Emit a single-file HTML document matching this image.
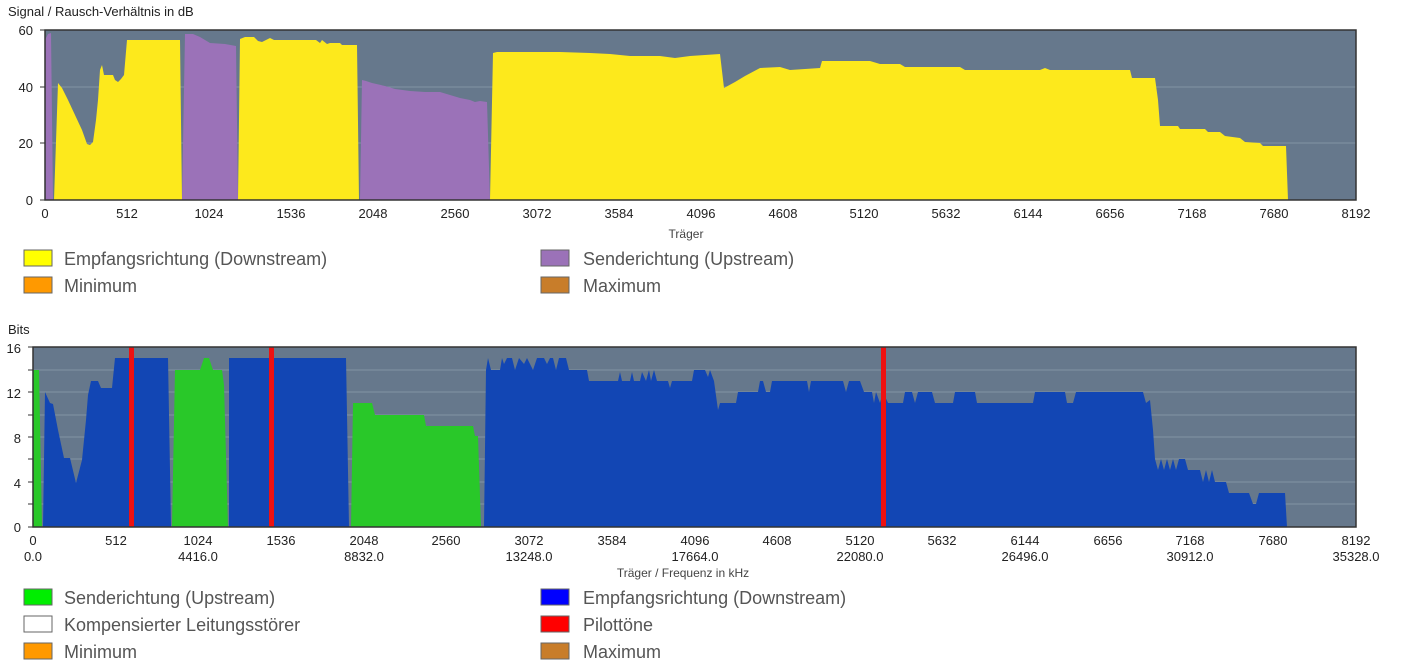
<!DOCTYPE html>
<html><head><meta charset="utf-8"><style>
html,body{margin:0;padding:0;background:#fff;width:1403px;height:672px;overflow:hidden}
svg{display:block;font-family:"Liberation Sans",sans-serif}
.t{font-size:13px;fill:#222}
.lg{font-size:18px;fill:#555}
</style></head><body>
<svg width="1403" height="672" viewBox="0 0 1403 672">
<!-- TOP CHART -->
<text x="8" y="16" class="t" font-size="13">Signal / Rausch-Verhältnis in dB</text>
<rect x="45" y="30" width="1311" height="170" fill="#66788c"/>
<g stroke="#8193a4" stroke-width="1"><line x1="45" y1="87" x2="1356" y2="87"/><line x1="45" y1="143" x2="1356" y2="143"/></g>
<polygon fill="#9b72b8" points="45,200 45,40 48,34 51,33 53,200"/>
<polygon fill="#fde91c" points="54,200 58,83 62,88 68,100 75,115 82,130 87,144 90,145 93,142 96,120 98,100 100,70 102,65 104,75 113,75 115,80 118,82 121,79 124,75 127,40 180,40 182,200"/>
<polygon fill="#9b72b8" points="182,200 185,34 193,34 200,37 205,40 210,43 225,44 236,46 238,200"/>
<polygon fill="#fde91c" points="238,200 240,39 245,37 254,37 258,41 262,42 266,40 270,38 274,40 316,40 320,43 322,40 327,44 330,43 340,43 342,45 357,45 359,200"/>
<polygon fill="#9b72b8" points="360,200 362,80 366,81 372,83 385,86 395,89 410,91 425,92 440,92 450,95 460,98 470,100 475,102 480,101 487,102 490,200"/>
<polygon fill="#fde91c" points="490,200 493,53 497,52 560,52 590,53 610,54 630,56 660,56 675,58 690,56 720,54 724,88 735,82 745,76 760,68 780,67 790,70 820,68 822,61 870,61 880,64 900,64 905,67 960,67 965,70 1040,70 1045,68 1050,70 1130,70 1132,78 1155,78 1158,100 1160,126 1178,126 1180,129 1205,129 1208,132 1220,132 1225,136 1240,138 1245,142 1260,143 1263,146 1286,146 1288,200"/>
<rect x="45" y="30" width="1311" height="170" fill="none" stroke="#333" stroke-width="1.5"/>
<g class="t" text-anchor="end" font-size="13"><text x="33" y="35">60</text><text x="33" y="92">40</text><text x="33" y="148">20</text><text x="33" y="205">0</text></g>
<g stroke="#333"><line x1="40" y1="30" x2="45" y2="30"/><line x1="40" y1="87" x2="45" y2="87"/><line x1="40" y1="143" x2="45" y2="143"/><line x1="40" y1="200" x2="45" y2="200"/></g>
<g class="t" text-anchor="middle" font-size="13">
<text x="45" y="218">0</text><text x="127" y="218">512</text><text x="209" y="218">1024</text><text x="291" y="218">1536</text><text x="373" y="218">2048</text><text x="455" y="218">2560</text><text x="537" y="218">3072</text><text x="619" y="218">3584</text><text x="701" y="218">4096</text><text x="783" y="218">4608</text><text x="864" y="218">5120</text><text x="946" y="218">5632</text><text x="1028" y="218">6144</text><text x="1110" y="218">6656</text><text x="1192" y="218">7168</text><text x="1274" y="218">7680</text><text x="1356" y="218">8192</text>
<text x="686" y="238" font-size="12" fill="#444">Träger</text></g>
<rect x="24" y="250" width="28" height="16" fill="#ffff00" stroke="#666"/><text x="64" y="265" class="lg">Empfangsrichtung (Downstream)</text>
<rect x="541" y="250" width="28" height="16" fill="#9b72b8" stroke="#666"/><text x="583" y="265" class="lg">Senderichtung (Upstream)</text>
<rect x="24" y="277" width="28" height="16" fill="#ff9900" stroke="#666"/><text x="64" y="292" class="lg">Minimum</text>
<rect x="541" y="277" width="28" height="16" fill="#c87d2a" stroke="#666"/><text x="583" y="292" class="lg">Maximum</text>

<!-- BOTTOM CHART -->
<text x="8" y="334" class="t" font-size="12">Bits</text>
<rect x="33" y="347" width="1323" height="180" fill="#66788c"/>
<g stroke="#8193a4" stroke-width="1">
<line x1="33" y1="370" x2="1356" y2="370"/><line x1="33" y1="392" x2="1356" y2="392"/><line x1="33" y1="415" x2="1356" y2="415"/><line x1="33" y1="437" x2="1356" y2="437"/><line x1="33" y1="459" x2="1356" y2="459"/><line x1="33" y1="482" x2="1356" y2="482"/><line x1="33" y1="504" x2="1356" y2="504"/></g>
<polygon fill="#29c829" points="33,527 33,370 39,370 42,527"/>
<polygon fill="#1246b4" points="43,527 45,392 50,403 53,404 58,430 64,458 70,458 76,483 82,460 86,420 88,395 91,381 98,381 101,388 112,388 115,358 168,358 171,527"/>
<polygon fill="#29c829" points="172,527 175,370 200,370 204,358 209,358 213,370 222,370 224,385 228,527"/>
<polygon fill="#1246b4" points="229,527 229,358 346,358 349,527"/>
<polygon fill="#29c829" points="351,527 353,403 372,403 375,415 424,415 426,426 473,426 475,436 478,436 481,527"/>
<polygon fill="#1246b4" points="484,527 486,370 488,358 491,370 500,370 502,358 504,364 507,358 512,358 515,370 519,358 524,364 527,358 530,364 533,370 537,358 544,358 547,364 550,358 553,358 556,370 559,358 566,358 569,370 587,370 589,381 618,381 620,372 622,381 630,381 632,372 634,381 640,381 642,372 646,381 649,370 651,381 654,370 657,381 668,381 670,388 672,381 692,381 694,370 705,370 708,377 710,370 714,381 718,410 720,403 736,403 738,392 758,392 760,381 763,381 766,392 770,392 772,381 807,381 809,392 811,381 843,381 846,392 849,381 860,381 864,392 872,392 874,403 876,392 880,403 883,392 888,403 903,403 905,392 912,392 915,403 918,392 920,392 932,392 935,403 953,403 955,392 975,392 977,403 1033,403 1035,392 1065,392 1067,403 1073,403 1076,392 1143,392 1146,403 1150,400 1153,430 1155,459 1158,470 1161,459 1164,470 1167,459 1170,470 1173,459 1176,470 1179,459 1185,459 1188,470 1200,470 1203,482 1206,470 1209,482 1212,470 1215,482 1218,482 1221,482 1226,482 1229,493 1249,493 1253,504 1256,504 1259,493 1285,493 1287,527"/>
<g fill="#ee1111"><rect x="129" y="347" width="5" height="180"/><rect x="269" y="347" width="5" height="180"/><rect x="881" y="347" width="5" height="180"/></g>
<rect x="33" y="347" width="1323" height="180" fill="none" stroke="#333" stroke-width="1.5"/>
<g class="t" text-anchor="end" font-size="13"><text x="21" y="353">16</text><text x="21" y="398">12</text><text x="21" y="443">8</text><text x="21" y="488">4</text><text x="21" y="532">0</text></g>
<g stroke="#333"><line x1="28" y1="347" x2="33" y2="347"/><line x1="28" y1="370" x2="33" y2="370"/><line x1="28" y1="392" x2="33" y2="392"/><line x1="28" y1="415" x2="33" y2="415"/><line x1="28" y1="437" x2="33" y2="437"/><line x1="28" y1="459" x2="33" y2="459"/><line x1="28" y1="482" x2="33" y2="482"/><line x1="28" y1="504" x2="33" y2="504"/><line x1="28" y1="527" x2="33" y2="527"/></g>
<g class="t" text-anchor="middle" font-size="13">
<text x="33" y="545">0</text><text x="116" y="545">512</text><text x="198" y="545">1024</text><text x="281" y="545">1536</text><text x="364" y="545">2048</text><text x="446" y="545">2560</text><text x="529" y="545">3072</text><text x="612" y="545">3584</text><text x="695" y="545">4096</text><text x="777" y="545">4608</text><text x="860" y="545">5120</text><text x="942" y="545">5632</text><text x="1025" y="545">6144</text><text x="1108" y="545">6656</text><text x="1190" y="545">7168</text><text x="1273" y="545">7680</text><text x="1356" y="545">8192</text>
<text x="33" y="561">0.0</text><text x="198" y="561">4416.0</text><text x="364" y="561">8832.0</text><text x="529" y="561">13248.0</text><text x="695" y="561">17664.0</text><text x="860" y="561">22080.0</text><text x="1025" y="561">26496.0</text><text x="1190" y="561">30912.0</text><text x="1356" y="561">35328.0</text>
<text x="683" y="577" font-size="12" fill="#444">Träger / Frequenz in kHz</text></g>
<rect x="24" y="589" width="28" height="16" fill="#00ee00" stroke="#666"/><text x="64" y="604" class="lg">Senderichtung (Upstream)</text>
<rect x="541" y="589" width="28" height="16" fill="#0000ff" stroke="#666"/><text x="583" y="604" class="lg">Empfangsrichtung (Downstream)</text>
<rect x="24" y="616" width="28" height="16" fill="#ffffff" stroke="#666"/><text x="64" y="631" class="lg">Kompensierter Leitungsstörer</text>
<rect x="541" y="616" width="28" height="16" fill="#ff0000" stroke="#666"/><text x="583" y="631" class="lg">Pilottöne</text>
<rect x="24" y="643" width="28" height="16" fill="#ff9900" stroke="#666"/><text x="64" y="658" class="lg">Minimum</text>
<rect x="541" y="643" width="28" height="16" fill="#c87d2a" stroke="#666"/><text x="583" y="658" class="lg">Maximum</text>
</svg>
</body></html>
